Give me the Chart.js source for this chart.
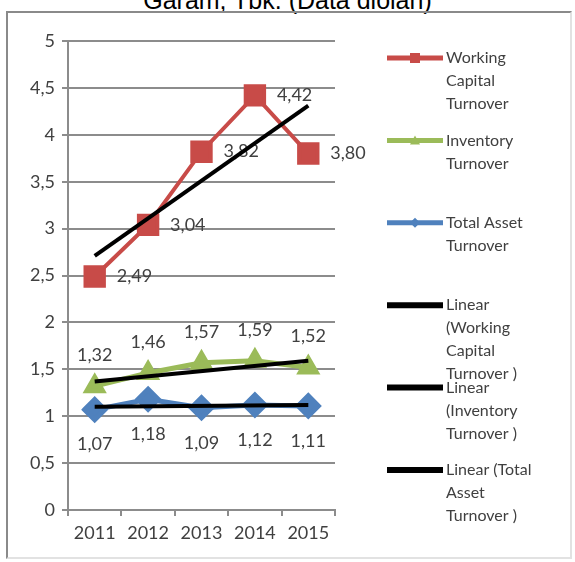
<!DOCTYPE html>
<html>
<head>
<meta charset="utf-8">
<script src="https://cdn.jsdelivr.net/npm/chart.js@4.4.0/dist/chart.umd.min.js"></script>
<style>
  body { margin: 0; width: 575px; height: 562px; overflow: hidden; background: #fff; position: relative; }
  #title { position: absolute; left: 0; top: -14px; width: 575px; text-align: center; font: 25px "Liberation Sans", Arial, sans-serif; color: #000; white-space: nowrap; }
  #frame { position: absolute; left: 6px; top: 11px; width: 566px; height: 548px; box-sizing: border-box;
           border: 2px solid #8a8a8a; border-right-color: #e2e2e2; border-bottom-color: #e2e2e2; }
  #myChart { position: absolute; left: 0; top: 0; }
</style>
</head>
<body>
<div id="title">Garam, Tbk. (Data diolah)</div>
<div id="frame"></div>
<canvas id="myChart" width="575" height="562"></canvas>
<script>
// data
var years = ["2011", "2012", "2013", "2014", "2015"];
var workingCapital = [2.49, 3.04, 3.82, 4.42, 3.80];
var inventory = [1.32, 1.46, 1.57, 1.59, 1.52];
var totalAsset = [1.07, 1.18, 1.09, 1.12, 1.11];
// trend lines: only the two ends, as seen in the picture
var trendWorking = [2.71, null, null, null, 4.31];
var trendInventory = [1.37, null, null, null, 1.59];
var trendAsset = [1.10, null, null, null, 1.12];
var yTicks = [0, 0.5, 1, 1.5, 2, 2.5, 3, 3.5, 4, 4.5, 5];

var gridColor = "#8c8c8c";
var textColor = "#404040";

function fmt(v) {
  return String(v.toFixed(2)).replace(".", ",");
}

// value labels next to the markers
var valueLabels = {
  id: "valueLabels",
  beforeDatasetsDraw(chart) {
    var ctx = chart.ctx;
    ctx.save();
    ctx.font = "18px Lato";
    ctx.fillStyle = textColor;
    ctx.textBaseline = "middle";
    chart.data.datasets.forEach(function (ds, i) {
      if (!ds.labelPos) return;
      var meta = chart.getDatasetMeta(i);
      meta.data.forEach(function (pt, j) {
        var txt = fmt(ds.data[j]);
        if (ds.labelPos == "right") {
          ctx.textAlign = "left";
          ctx.fillText(txt, pt.x + 22, pt.y);
        } else if (ds.labelPos == "top") {
          ctx.textAlign = "center";
          ctx.fillText(txt, pt.x, pt.y - 31);
        } else {
          ctx.textAlign = "center";
          ctx.fillText(txt, pt.x, pt.y + 35);
        }
      });
    });
    ctx.restore();
  },
};

function marker(ctx, style, x, y, r) {
  ctx.beginPath();
  if (style == "rect") {
    ctx.rect(x - r, y - r, 2 * r, 2 * r);
  } else if (style == "triangle") {
    ctx.moveTo(x, y - r);
    ctx.lineTo(x + r, y + r * 0.8);
    ctx.lineTo(x - r, y + r * 0.8);
    ctx.closePath();
  } else {
    ctx.moveTo(x, y - r);
    ctx.lineTo(x + r, y);
    ctx.lineTo(x, y + r);
    ctx.lineTo(x - r, y);
    ctx.closePath();
  }
  ctx.fill();
}

// legend on the right, with wrapped text
var sideLegend = {
  id: "sideLegend",
  afterDraw(chart) {
    var ctx = chart.ctx;
    ctx.save();
    ctx.font = "16px Lato";
    ctx.textBaseline = "middle";
    ctx.textAlign = "left";
    chart.data.datasets.forEach(function (ds, i) {
      var y = 58 + i * 82.4;
      ctx.strokeStyle = ds.borderColor;
      ctx.lineWidth = ds.labelPos ? 5 : 6;
      ctx.beginPath();
      ctx.moveTo(387, y);
      ctx.lineTo(443, y);
      ctx.stroke();
      if (ds.labelPos) {
        ctx.fillStyle = ds.borderColor;
        marker(ctx, ds.pointStyle, 415, y, 5);
      }
      var words = ds.label.split(" ");
      var lines = [];
      var cur = "";
      words.forEach(function (w) {
        var test = cur ? cur + " " + w : w;
        if (cur && ctx.measureText(test).width > 98) {
          lines.push(cur);
          cur = w;
        } else {
          cur = test;
        }
      });
      lines.push(cur);
      ctx.fillStyle = textColor;
      lines.forEach(function (l, k) {
        ctx.fillText(l, 446, y + k * 23);
      });
    });
    ctx.restore();
  },
};

var ctx = document.getElementById("myChart").getContext("2d");
var myChart = new Chart(ctx, {
  type: "line",
  data: {
    labels: years,
    datasets: [
      {
        label: "Working Capital Turnover",
        data: workingCapital,
        borderColor: "#c84b48",
        backgroundColor: "#c84b48",
        borderWidth: 4,
        pointStyle: "rect",
        pointRadius: 13,
        labelPos: "right",
        order: 1,
      },
      {
        label: "Inventory Turnover",
        data: inventory,
        borderColor: "#9bbb59",
        backgroundColor: "#9bbb59",
        borderWidth: 5,
        pointStyle: "triangle",
        pointRadius: 9,
        labelPos: "top",
        order: 1,
      },
      {
        label: "Total Asset Turnover",
        data: totalAsset,
        borderColor: "#4f81bd",
        backgroundColor: "#4f81bd",
        borderWidth: 5,
        pointStyle: "rectRot",
        pointRadius: 10,
        labelPos: "bottom",
        order: 1,
      },
      {
        label: "Linear (Working Capital Turnover )",
        data: trendWorking,
        borderColor: "#000",
        borderWidth: 4,
        pointRadius: 0,
        spanGaps: true,
        order: 0,
      },
      {
        label: "Linear (Inventory Turnover )",
        data: trendInventory,
        borderColor: "#000",
        borderWidth: 4,
        pointRadius: 0,
        spanGaps: true,
        order: 0,
      },
      {
        label: "Linear (Total Asset Turnover )",
        data: trendAsset,
        borderColor: "#000",
        borderWidth: 4,
        pointRadius: 0,
        spanGaps: true,
        order: 0,
      },
    ],
  },
  options: {
    responsive: false,
    animation: false,
    layout: { padding: { left: 0, top: 41, right: 240, bottom: 0 } },
    plugins: { legend: { display: false }, tooltip: { enabled: false } },
    scales: {
      x: {
        offset: true,
        grid: { drawOnChartArea: false, drawTicks: true, tickLength: 6, color: gridColor, lineWidth: 2, offset: true },
        border: { color: gridColor, width: 2 },
        ticks: { font: { family: "Lato", size: 18 }, color: textColor, padding: 6 },
        afterFit: function (s) { s.height = 52; },
      },
      y: {
        min: 0,
        max: 5,
        afterBuildTicks: function (s) { s.ticks = yTicks.map(function (v) { return { value: v }; }); },
        grid: { color: gridColor, lineWidth: 2, tickLength: 6 },
        border: { color: gridColor, width: 2 },
        ticks: {
          font: { family: "Lato", size: 18 },
          color: textColor,
          padding: 7,
          callback: function (v) { return String(v).replace(".", ","); },
        },
        afterFit: function (s) { s.width = 68; },
      },
    },
  },
  plugins: [valueLabels, sideLegend],
});
</script>
</body>
</html>
